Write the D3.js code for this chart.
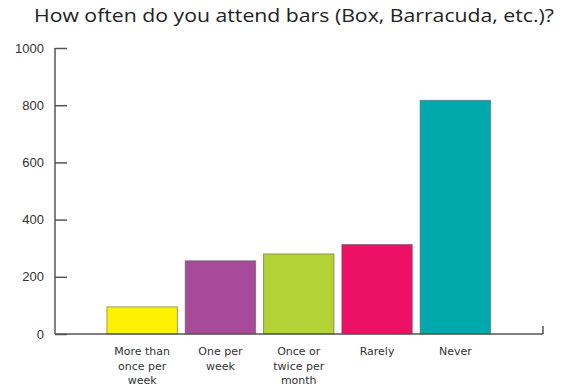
<!DOCTYPE html>
<html>
<head>
<meta charset="utf-8">
<script src="https://cdn.jsdelivr.net/npm/d3@7"></script>
<style>
  html, body { margin: 0; padding: 0; background: #fff; }
  svg { display: block; }
</style>
</head>
<body>
<svg id="chart" width="563" height="390"></svg>
<script>
// Survey responses: how often people attend bars
const categories = ["More than once per week", "One per week", "Once or twice per month", "Rarely", "Never"];
const labelLines = [["More than", "once per", "week"], ["One per", "week"], ["Once or", "twice per", "month"], ["Rarely"], ["Never"]];
const counts = [95, 256, 280, 313, 817];
const barColors = ["#fff200", "#a84a9a", "#b2d235", "#ec1164", "#00a9ab"];
const yTicks = [0, 200, 400, 600, 800, 1000];
const title = "How often do you attend bars (Box, Barracuda, etc.)?";

const svg = d3.select("#chart");
const titleFont = "'Open Sans', 'DejaVu Sans', sans-serif";
const labelFont = "'DejaVu Sans', sans-serif";

const x = d3.scaleBand()
  .domain(categories)
  .range([103, 494.5])
  .paddingInner(0.1)
  .paddingOuter(0.05);

const y = d3.scaleLinear()
  .domain([0, 1000])
  .range([334, 48]);

// Title
svg.append("text")
  .attr("x", 294)
  .attr("y", 22)
  .attr("text-anchor", "middle")
  .attr("font-family", titleFont)
  .attr("font-size", 18.5)
  .attr("fill", "#222")
  .attr("textLength", 520)
  .attr("lengthAdjust", "spacingAndGlyphs")
  .text(title);

// Bars
svg.append("g")
  .selectAll("rect")
  .data(counts)
  .join("rect")
  .attr("x", (d, i) => x(categories[i]))
  .attr("y", d => y(d))
  .attr("width", x.bandwidth())
  .attr("height", d => y(0) - y(d))
  .attr("fill", (d, i) => barColors[i])
  .attr("stroke", "#555")
  .attr("stroke-opacity", 0.55)
  .attr("stroke-width", 1);

// Y axis with ticks pointing into the plot
const yAxis = d3.axisLeft(y).tickValues(yTicks).tickFormat(d3.format("d")).tickSize(-12).tickPadding(11);
const gy = svg.append("g").attr("transform", "translate(55,0)").call(yAxis);
gy.select(".domain").remove();
gy.selectAll(".tick line").attr("stroke", "#555").attr("stroke-width", 1.5);
gy.selectAll(".tick text")
  .attr("font-family", "'Liberation Sans', Arial, sans-serif")
  .attr("font-size", 13)
  .attr("fill", "#333");
gy.append("line")
  .attr("x1", 0).attr("x2", 0)
  .attr("y1", y(1000)).attr("y2", y(0))
  .attr("stroke", "#555").attr("stroke-width", 1.5);

// X axis baseline with closing tick at the right end
const gx = svg.append("g");
gx.append("line")
  .attr("x1", 55).attr("x2", 543)
  .attr("y1", y(0)).attr("y2", y(0))
  .attr("stroke", "#555").attr("stroke-width", 1.5);
gx.append("line")
  .attr("x1", 543).attr("x2", 543)
  .attr("y1", y(0) - 8).attr("y2", y(0))
  .attr("stroke", "#555").attr("stroke-width", 1.5);

// Category labels, one text element per wrapped line
const labelData = [];
categories.forEach((c, i) => {
  labelLines[i].forEach((t, j) => labelData.push({ cat: c, text: t, line: j }));
});
svg.append("g")
  .selectAll("text")
  .data(labelData)
  .join("text")
  .attr("x", d => x(d.cat) + x.bandwidth() / 2)
  .attr("y", d => 355 + d.line * 14.5)
  .attr("text-anchor", "middle")
  .attr("font-family", labelFont)
  .attr("font-size", 11)
  .attr("fill", "#333")
  .text(d => d.text);
</script>
</body>
</html>
